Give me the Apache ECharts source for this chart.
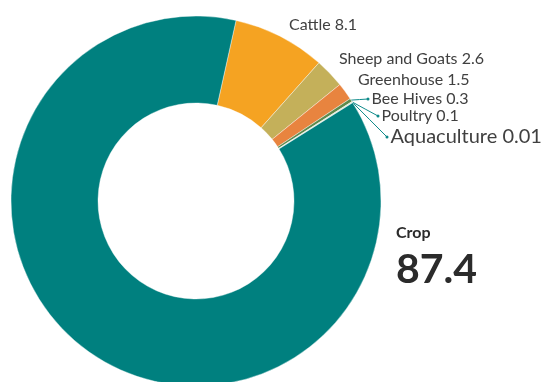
<!DOCTYPE html>
<html><head><meta charset="utf-8">
<script src="https://cdn.jsdelivr.net/npm/echarts@6/dist/echarts.min.js"></script>
<style>html,body{margin:0;padding:0;background:#fff}#c{width:546px;height:382px}</style>
</head><body><div id="c"></div>
<script>
const categories = ['Cattle', 'Sheep and Goats', 'Greenhouse', 'Bee Hives', 'Poultry', 'Aquaculture', 'Crop'];
const values = [8.1, 2.6, 1.5, 0.3, 0.1, 0.01, 87.4];
const valueLabels = ['8.1', '2.6', '1.5', '0.3', '0.1', '0.01', '87.4'];

const colors = ['#F5A322', '#C4B05A', '#E8843F', '#5E8A4C', '#D3E2C4', '#8FB8A0', '#00807F'];
// label anchor (left x, middle y) per slice
const labelPos = [[287, 25], [337, 59], [356, 80], [366.5, 99], [376.5, 116], [385.5, 137], [396, 254]];
const leader = [false, false, false, true, true, true, false];
const textStyleKey = ['t', 't', 't', 't', 't', 'u', 't'];

const data = categories.map((c, i) => {
  const d = { name: c, value: values[i], itemStyle: { color: colors[i] } };
  const k = textStyleKey[i];
  if (i === categories.length - 1) {
    d.label = { formatter: '{a|' + c + '}\n{b|' + valueLabels[i] + '}' };
  } else if (leader[i]) {
    d.label = { formatter: '{d|}{' + k + '|' + c + ' ' + valueLabels[i] + '}' };
  } else {
    d.label = { formatter: '{' + k + '|' + c + ' ' + valueLabels[i] + '}' };
  }
  d.labelLine = { show: leader[i] };
  return d;
});

const chart = echarts.init(document.getElementById('c'), null, { renderer: 'canvas' });
chart.setOption({
  animation: false,
  series: [{
    type: 'pie',
    center: [196, 201],
    radius: [98, 185],
    startAngle: 77.5,
    clockwise: true,
    avoidLabelOverlap: false,
    silent: true,
    itemStyle: { borderColor: '#ffffff', borderWidth: 0.4 },
    label: {
      show: true,
      position: 'outside',
      fontFamily: 'Lato',
      color: '#404040',
      rich: {
        t: { fontFamily: 'Lato', fontSize: 16, color: '#404040', padding: [0, 0, 0, 2] },
        u: { fontFamily: 'Lato', fontSize: 20, color: '#404040', padding: [0, 0, 0, 2] },
        d: { width: 3, height: 3, backgroundColor: '#0E8A8A', borderRadius: 1.5, padding: 0 },
        a: { fontFamily: 'Lato', fontWeight: 'bold', fontSize: 16, color: '#2b2b2b', lineHeight: 32 },
        b: { fontFamily: 'Lato', fontWeight: 'bold', fontSize: 41, color: '#2b2b2b', lineHeight: 42 }
      }
    },
    labelLine: { show: true, lineStyle: { color: '#0E8A8A', width: 1 }, length: 10, length2: 10 },
    labelLayout: function (p) {
      const i = p.dataIndex;
      const pos = labelPos[i];
      const res = { x: pos[0], y: pos[1], align: 'left', verticalAlign: 'middle' };
      if (leader[i] && p.labelLinePoints) {
        const s = p.labelLinePoints[0];
        const e = [pos[0] + 1.5, pos[1]];
        res.labelLinePoints = [s, [(s[0] + e[0]) / 2, (s[1] + e[1]) / 2], e];
      }
      return res;
    },
    data: data
  }]
});
</script></body></html>
